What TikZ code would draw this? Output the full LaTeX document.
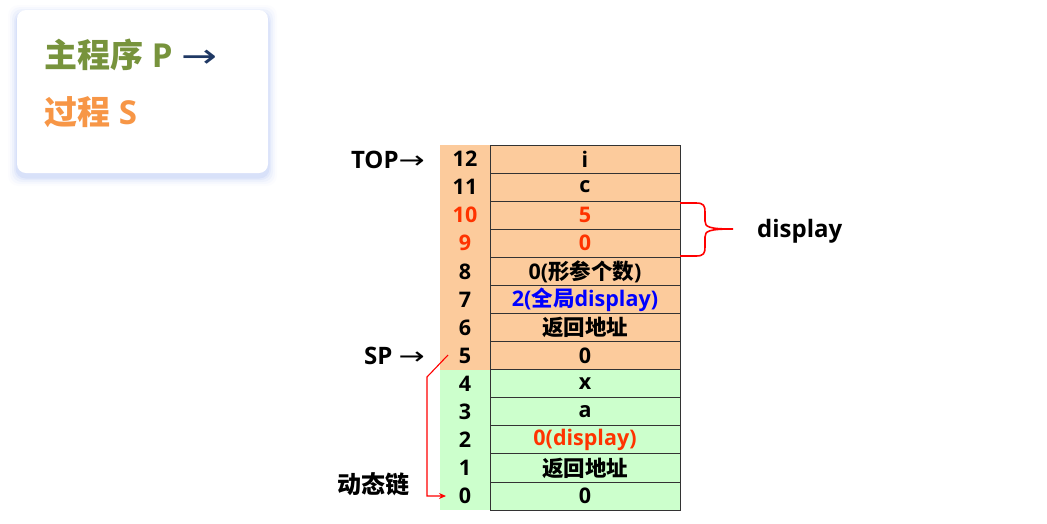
\documentclass[tikz,border=0pt]{standalone}
\usepackage{fontspec}
\setmainfont{Open Sans}
\newfontfamily\cjk{Noto Sans CJK SC}
\newfontfamily\arr{DejaVu Sans}
\usetikzlibrary{arrows.meta}
\definecolor{peach}{HTML}{FCCB9C}
\definecolor{mint}{HTML}{CCFFCC}
\definecolor{hired}{HTML}{FF3300}
\definecolor{olive}{HTML}{77933C}
\definecolor{tango}{HTML}{F79646}
\definecolor{navyarr}{HTML}{1F3864}
\definecolor{cellline}{HTML}{333333}
\definecolor{shadowblue}{HTML}{6F8FE8}
\newcommand{\wideArrow}{{\arr\mdseries\scalebox{1.3}[1]{→}}}
\begin{document}
\begin{tikzpicture}[x=1pt,y=-1pt,
  idx/.style={minimum width=50pt,minimum height=28.08pt,inner sep=0pt},
  val/.style={draw=cellline,line width=0.9pt,minimum width=190pt,minimum height=28.08pt,inner sep=0pt},
  lbl/.style={inner sep=0pt,font=\fontsize{21.5}{21.5}\selectfont\bfseries},
  side/.style={inner sep=0pt,font=\fontsize{24}{24}\selectfont\bfseries},
  cardtxt/.style={inner sep=0pt,anchor=west,font=\fontsize{33}{33}\selectfont\bfseries}]
\useasboundingbox (0,0) rectangle (1047,523);
% card with soft shadow
\foreach \s/\o in {9/0.025,7/0.04,5/0.06,3/0.08,1.5/0.10}{
  \fill[shadowblue,opacity=\o,rounded corners=10pt] (17-\s,10-\s+4) rectangle (268+\s,173+\s+4);
}
\fill[white,rounded corners=9pt] (17,10) rectangle (268,173);
\node[cardtxt,text=olive] (p) at (44,55) {{\cjk\bfseries 主程序} P \textcolor{navyarr}{\wideArrow}};
\node[cardtxt,text=tango] (s) at (44,112) {{\cjk\bfseries 过程} S};
% table
\foreach \k in {0,...,12}{
  \pgfmathsetmacro{\yc}{145+(12-\k)*28.08+14.04}
  \ifnum\k>4
    \def\fc{peach}
  \else
    \def\fc{mint}
  \fi
  \node[idx,fill=\fc] (i\k) at (465,\yc) {};
  \node[val,fill=\fc] (v\k) at (585,\yc) {};
}
\foreach \k in {0,...,12}{
  \pgfmathsetmacro{\yc}{145+(12-\k)*28.08+14.04}
  \ifnum\k=9 \def\tc{hired}\else\ifnum\k=10 \def\tc{hired}\else\def\tc{black}\fi\fi
  \node[lbl,text=\tc] at (465,\yc) {\k};
}
\node[lbl] at (v12) {i};
\node[lbl] at (v11) {c};
\node[lbl,text=hired] at (v10) {5};
\node[lbl,text=hired] at (v9) {0};
\node[lbl] at (v8) {0({\cjk\bfseries 形参个数})};
\node[lbl,text=blue] at (v7) {2({\cjk\bfseries 全局}display)};
\node[lbl] at (v6) {\cjk\bfseries 返回地址};
\node[lbl] at (v5) {0};
\node[lbl] at (v4) {x};
\node[lbl] at (v3) {a};
\node[lbl,text=hired] at (v2) {0(display)};
\node[lbl] at (v1) {\cjk\bfseries 返回地址};
\node[lbl] at (v0) {0};
% labels
\node[side,anchor=east] (top) at (425,160) {TOP\wideArrow};
\node[side,anchor=east] (sp) at (425,356) {SP \wideArrow};
\node[side] (dyn) at (373,484) {\cjk\bfseries 动态链};
\node[side,anchor=west] (disp) at (757,231) {display};
% brace
\draw[red,line width=1.6pt] (680,203) -- (696,203) .. controls (704,203) and (705,206) .. (705,212) -- (705,221) .. controls (705,227) and (709,229) .. (733,229)
  .. controls (709,229) and (705,231) .. (705,237) -- (705,247) .. controls (705,253) and (704,256) .. (696,256) -- (680,256);
% dynamic chain
\coordinate (dlstart) at (448,355);
\coordinate (dlend) at (446,496);
\draw[red,line width=1.1pt,-{Stealth[length=7pt,width=6pt]}] (dlstart) -- (427,377) -- (427,496) -- (dlend);
\end{tikzpicture}
\end{document}
